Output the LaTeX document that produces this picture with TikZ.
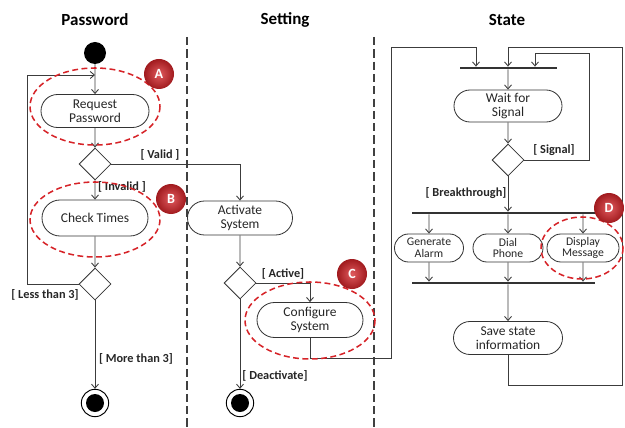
\documentclass[tikz,border=0pt]{standalone}
\usepackage{fontspec}
\setmainfont{Carlito}
\usetikzlibrary{shapes.misc,shapes.geometric,arrows.meta}
\definecolor{hired}{RGB}{214,35,40}
\definecolor{wire}{RGB}{60,60,60}

\begin{document}
\begin{tikzpicture}[x=0.03cm,y=-0.03cm,
  >={Straight Barb[length=3.5pt,width=6pt]},
  act/.style={rounded rectangle,draw=black!80,line width=0.7pt,align=center,
    font=\fontsize{11.5}{11.5}\selectfont,inner sep=0pt,text=black!85},
  smallact/.style={act,font=\fontsize{10}{10}\selectfont},
  choice/.style={diamond,draw=black!80,line width=0.7pt,minimum width=0.96cm,
    minimum height=0.96cm,inner sep=0pt},
  startdot/.style={circle,fill=black,minimum size=0.66cm,inner sep=0pt},
  enddot/.style={circle,draw=black,line width=0.8pt,minimum size=0.82cm,inner sep=0pt,
    path picture={\fill (path picture bounding box.center) circle (0.27cm);}},
  syncbar/.style={rectangle,fill=black!80,minimum height=0.07cm,inner sep=0pt},
  guard/.style={font=\fontsize{10.5}{10.5}\selectfont\bfseries,text=black!85,inner sep=1pt},
  lane/.style={font=\fontsize{14.5}{14.5}\selectfont\bfseries},
  flow/.style={->,draw=wire,line width=0.75pt},
  divider/.style={draw=black!75,line width=1pt,dash pattern=on 7pt off 3.5pt},
  hilite/.style={draw=hired,line width=1.3pt,dash pattern=on 5pt off 3pt},
  tag/.style={circle,shading=radial,inner color=hired!75!white,outer color=hired!75!black,
    minimum size=0.9cm,inner sep=0pt,text=white,font=\fontsize{12}{12}\selectfont\bfseries}
]
\useasboundingbox (0,0) rectangle (625,428);

% swimlanes
\node[lane] (lanepw) at (95,20) {Password};
\node[lane] (laneset) at (285,20) {Setting};
\node[lane] (lanestate) at (507,20) {State};
\draw[divider] (187,37) -- (187,428);
\draw[divider] (374,37) -- (374,428);

% Password
\node[startdot] (start1) at (95,53) {};
\node[act,minimum width=3.24cm,minimum height=0.99cm] (reqpw) at (95,111) {Request\\Password};
\node[choice] (dec1) at (95,164) {};
\node[act,minimum width=3.18cm,minimum height=1.08cm] (check) at (95,218) {Check Times};
\node[choice] (dec2) at (95,284) {};
\node[enddot] (end1) at (95,403) {};

% Setting
\node[act,minimum width=3.15cm,minimum height=1.02cm] (activ) at (240,218) {Activate\\System};
\node[choice] (dec3) at (240,283) {};
\node[act,minimum width=3.18cm,minimum height=1.05cm] (config) at (310,320) {Configure\\System};
\node[enddot] (end2) at (240,403) {};

% State
\node[syncbar,minimum width=2.91cm] (sync) at (508,68) {};
\node[act,minimum width=3.24cm,minimum height=0.96cm] (wait) at (508,106) {Wait for\\Signal};
\node[choice] (dec4) at (508,160) {};
\node[syncbar,minimum width=5.49cm] (fork) at (503.5,213) {};
\node[smallact,minimum width=2.07cm,minimum height=0.84cm] (alarm) at (429,248) {Generate\\Alarm};
\node[smallact,minimum width=2.1cm,minimum height=0.84cm] (phone) at (508,248) {Dial\\Phone};
\node[smallact,minimum width=2.16cm,minimum height=0.84cm] (display) at (583,248) {Display\\Message};
\node[syncbar,minimum width=5.49cm] (join) at (503.5,283) {};
\node[act,minimum width=3.27cm,minimum height=0.99cm] (save) at (508,338) {Save state\\information};

% turning points
\coordinate (backpt) at (95,75);
\coordinate (backleft) at (27,75);
\coordinate (cfgturn) at (391,358);
\coordinate (syncin1) at (476,47);
\coordinate (savedown) at (622,385);
\coordinate (saveback) at (508,47);
\coordinate (sigturn) at (589,53);
\coordinate (syncin3) at (535,53);

% flows
\draw[flow] (start1) -- (reqpw);
\draw[flow] (reqpw) -- (dec1);
\draw[flow] (dec1) -- (check);
\draw[flow] (check) -- (dec2);
\draw[flow] (dec2) -- (end1);
\draw[flow] (dec2.west) -| (backleft) -- (backpt);
\draw[flow] (dec1.east) -| (activ.north);
\draw[flow] (activ) -- (dec3);
\draw[flow] (dec3.east) -| (config.north);
\draw[flow] (dec3) -- (end2);
\draw[flow] (config.south) |- (cfgturn) |- (syncin1) -- (sync.north -| syncin1);
\draw[flow] (save.south) |- (savedown) |- (saveback) -- (sync.north -| saveback);
\draw[flow] (dec4.east) -| (sigturn) -- (syncin3) -- (sync.north -| syncin3);
\draw[flow] (sync) -- (wait);
\draw[flow] (wait) -- (dec4);
\draw[flow] (dec4.south) -- (fork.north -| dec4);
\draw[flow] (fork.south -| alarm) -- (alarm);
\draw[flow] (fork.south -| phone) -- (phone);
\draw[flow] (fork.south -| display) -- (display);
\draw[flow] (alarm) -- (join.north -| alarm);
\draw[flow] (phone) -- (join.north -| phone);
\draw[flow] (display) -- (join.north -| display);
\draw[flow] (join.south -| save) -- (save);

% guards
\node[guard] (gvalid) at (160,155) {[ Valid ]};
\node[guard] (ginvalid) at (122,187) {[ Invalid ]};
\node[guard] (gless) at (45,295) {[ Less than 3]};
\node[guard] (gmore) at (136,359) {[ More than 3]};
\node[guard] (gactive) at (283,274) {[ Active]};
\node[guard] (gdeact) at (275,376) {[ Deactivate]};
\node[guard] (gsignal) at (554,150) {[ Signal]};
\node[guard] (gbreak) at (466,193) {[ Breakthrough]};

% highlights
\draw[hilite] (95,106.5) ellipse [x radius=65, y radius=38.5];
\draw[hilite] (95,219.5) ellipse [x radius=65, y radius=37.5];
\draw[hilite] (310,320.5) ellipse [x radius=65, y radius=38.5];
\draw[hilite] (582,248) ellipse [x radius=41, y radius=31];
\node[tag] (tagA) at (159,74) {A};
\node[tag] (tagB) at (171,199) {B};
\node[tag] (tagC) at (352,274) {C};
\node[tag] (tagD) at (609,208) {D};
\end{tikzpicture}
\end{document}
